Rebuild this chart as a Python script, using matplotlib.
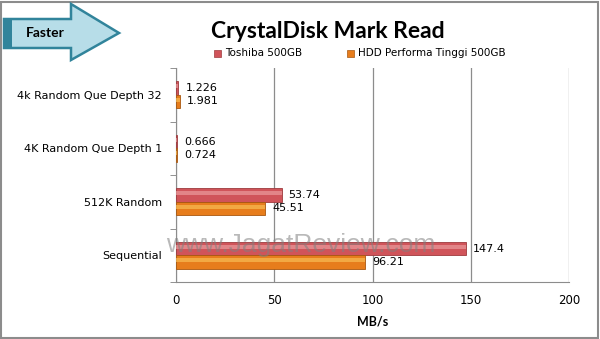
import matplotlib
matplotlib.use('Agg')
import matplotlib.pyplot as plt
import numpy as np
from matplotlib.patches import Polygon, Rectangle

categories = ['Sequential', '512K Random', '4K Random Que Depth 1', '4k Random Que Depth 32']
toshiba = [147.4, 53.74, 0.666, 1.226]
hdd = [96.21, 45.51, 0.724, 1.981]
toshiba_labels = ['147.4', '53.74', '0.666', '1.226']
hdd_labels = ['96.21', '45.51', '0.724', '1.981']
series_names = ['Toshiba 500GB', 'HDD Performa Tinggi 500GB']
xticks = [0, 50, 100, 150, 200]

W, H = 600, 339
fig = plt.figure(figsize=(W / 100, H / 100), dpi=100)
fig.patch.set_facecolor('white')

def px(x, y):
    # pixel coords (from top-left) -> figure fraction
    return x / W, 1 - y / H

# outer frame
fig.add_artist(Rectangle((0.002, 0.003), 0.995, 0.992, transform=fig.transFigure,
                         fill=False, edgecolor='#8c8c8c', linewidth=1.5))

# "Faster" arrow
arrow_px = [(4, 19), (71, 19), (71, 4), (119, 33), (71, 60), (71, 48), (4, 48)]
fig.add_artist(Polygon([px(*p) for p in arrow_px], closed=True, transform=fig.transFigure,
                       facecolor='#b7dde8', edgecolor='#31849b', linewidth=1.8))
x0, y0 = px(4, 48)
x1, _ = px(12, 48)
fig.add_artist(Rectangle((x0, y0), x1 - x0, 29 / H, transform=fig.transFigure,
                         facecolor='#31849b', edgecolor='none'))
fig.text(*px(26, 33), 'Faster', fontsize=10, fontweight='bold', family='Lato',
         ha='left', va='center', color='black')

# main axes
left, top = px(176, 68)
right, bottom = px(569, 282)
ax = fig.add_axes([left, bottom, right - left, top - bottom])

y = np.arange(len(categories))
h = 0.25
red, red_hi, red_edge = '#d0545a', '#ea9a9c', '#9e3b3e'
org, org_hi, org_edge = '#e77d1c', '#f7bc54', '#a85810'

ax.barh(y + h / 2, toshiba, height=h, color=red, edgecolor=red_edge, linewidth=0.6, zorder=3)
ax.barh(y + h / 2 + h * 0.12, toshiba, height=h * 0.3, color=red_hi, edgecolor='none', alpha=0.7, zorder=4)
ax.barh(y - h / 2, hdd, height=h, color=org, edgecolor=org_edge, linewidth=0.6, zorder=3)
ax.barh(y - h / 2 + h * 0.12, hdd, height=h * 0.3, color=org_hi, edgecolor='none', alpha=0.7, zorder=4)

for i in range(len(categories)):
    ax.annotate(toshiba_labels[i], (toshiba[i], y[i] + h / 2), xytext=(5, 0), textcoords='offset points',
                ha='left', va='center', fontsize=8, color='black', zorder=5)
    ax.annotate(hdd_labels[i], (hdd[i], y[i] - h / 2), xytext=(5, 0), textcoords='offset points',
                ha='left', va='center', fontsize=8, color='black', zorder=5)

ax.set_xlim(0, 200)
ax.set_ylim(-0.5, len(categories) - 0.5)
ax.set_xticks(xticks)
ax.set_yticks(y)
ax.set_yticklabels(categories, fontsize=8)
ax.set_yticks(np.arange(-0.5, len(categories), 1), minor=True)
ax.tick_params(axis='y', which='major', length=0, pad=10)
ax.tick_params(axis='y', which='minor', length=4, color='#808080')
ax.tick_params(axis='x', length=0, labelsize=8.5, pad=9)
ax.grid(axis='x', color='#8c8c8c', linewidth=0.9, zorder=0)
for s in ['top', 'right']:
    ax.spines[s].set_visible(False)
for s in ['left', 'bottom']:
    ax.spines[s].set_color('#8c8c8c')
ax.set_xlabel('MB/s', fontsize=9, fontweight='bold', family='Lato', labelpad=6)

# title and legend
fig.text(*px(328, 31), 'CrystalDisk Mark Read', fontsize=16.5, fontweight='bold', family='Lato',
         ha='center', va='center')
lx, ly = px(214, 53)
fig.add_artist(Rectangle((lx, ly - 3.5 / H), 7 / W, 7 / H, transform=fig.transFigure,
                         facecolor=red, edgecolor=red_edge, linewidth=0.5))
fig.text(*px(225, 53), series_names[0], fontsize=7.5, ha='left', va='center')
lx, ly = px(347, 53)
fig.add_artist(Rectangle((lx, ly - 3.5 / H), 7 / W, 7 / H, transform=fig.transFigure,
                         facecolor=org, edgecolor=org_edge, linewidth=0.5))
fig.text(*px(358, 53), series_names[1], fontsize=7.5, ha='left', va='center')

# watermark
fig.text(*px(301, 245), 'www.JagatReview.com', fontsize=19, color='#808080', alpha=0.55,
         ha='center', va='center', family='Liberation Sans', zorder=10)

fig.savefig('out.png', dpi=100)
